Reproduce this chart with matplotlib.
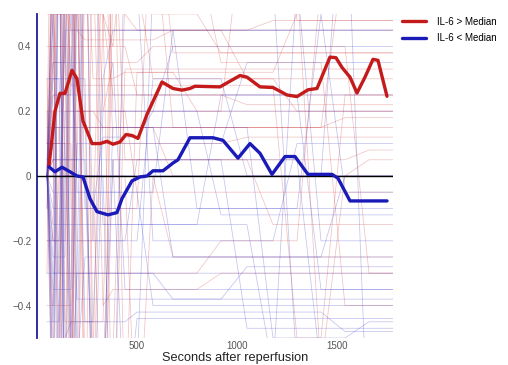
import numpy as np
import matplotlib
matplotlib.use("Agg")
import matplotlib.pyplot as plt

plt.rcParams['font.family'] = ['Liberation Sans', 'DejaVu Sans']

# Shared sampling times (s) for the individual patient traces
trace_t = [50, 80, 110, 140, 170, 200, 240, 280, 330, 380, 440, 500, 580,
           680, 800, 920, 1050, 1180, 1300, 1420, 1540, 1660, 1780]

# Individual traces, IL-6 > median group
red_01 = [0.03, 0.9, -0.7, 0.6, 0.45, 0.45, 0.42, 0.42, 0.42, 0.42, 0.42, 0.42, 0.42, 0.45, 0.45, 0.45, 0.45, 0.48, 0.48, 0.48, 0.48, 0.48, 0.48]
red_02 = [0.0, -0.8, 1.1, -0.9, 0.8, 0.2, 0.2, 0.2, 0.15, 0.15, 0.15, 0.15, 0.15, 0.15, 0.15, 0.15, 0.15, 0.15, 0.15, 0.15, 0.18, 0.18, 0.18]
red_03 = [0.1, 1.4, 1.2, 1.0, -0.6, 0.9, 0.6, 0.7, -0.4, -0.35, -0.35, -0.35, -0.35, -0.35, -0.35, -0.3, -0.3, -0.3, -0.3, -0.3, -0.3, -0.3, -0.3]
red_04 = [-0.1, 0.5, 1.3, 1.3, 1.2, -0.9, 0.9, 0.3, 0.3, 0.3, 0.32, 0.32, 0.32, 0.32, 0.32, 0.32, 0.32, 0.32, 0.5, 0.52, 0.52, 0.52, 0.52]
red_05 = [0.05, 0.35, 0.35, 0.35, 1.0, 1.2, -1.0, 0.9, 0.8, 0.6, 0.5, 0.45, 0.45, 0.45, 0.45, 0.45, 0.3, 0.3, 0.3, 0.3, 0.3, 0.3, 0.3]
red_06 = [0.0, -0.5, -0.6, 0.7, 0.8, 0.7, -0.6, -0.6, 0.9, 0.1, 0.1, 0.1, 0.1, 0.1, 0.1, 0.1, 0.12, 0.12, 0.12, 0.12, 0.12, 0.12, 0.12]
red_07 = [0.02, 0.6, -0.3, -0.3, -0.3, -0.3, -0.3, -0.3, -0.3, -0.3, -0.3, -0.3, -0.3, -0.3, -0.3, -0.2, -0.2, -0.2, -0.2, 0.6, 0.6, 0.6, 0.6]
red_08 = [0.0, 0.25, 0.25, 0.25, 0.25, 1.2, 1.2, -0.8, 0.5, 0.4, 0.4, 0.25, 0.25, 0.25, 0.25, 0.25, 0.22, 0.22, 0.22, 0.22, 0.22, 0.22, 0.22]
red_09 = [0.0, 0.15, 0.15, -1.2, -1.0, 0.8, 1.0, -0.5, -0.55, -0.55, 0.55, 0.55, 0.5, 0.5, 0.5, 0.38, 0.38, 0.38, 0.38, 0.38, 0.38, 0.38, 0.38]
red_10 = [0.0, 0.4, 0.4, 0.4, 0.4, 0.4, 0.4, 0.4, 0.4, 0.4, 0.8, 0.7, 0.62, 0.6, 0.6, 0.6, 0.6, 0.6, 0.6, -0.6, 0.0, 0.05, 0.05]
red_11 = [0.0, -0.2, -0.2, -0.2, 0.9, 0.9, 0.9, 0.9, 0.2, 0.2, 0.2, -0.05, -0.05, -0.05, -0.05, -0.05, -0.05, -0.05, -0.05, -0.05, -0.05, -0.05, -0.05]
red_12 = [0.0, 0.3, 0.8, 0.7, 0.28, 0.28, 0.28, 0.28, 0.28, 0.28, 0.28, 0.28, 0.28, 0.28, 0.28, 0.28, 0.28, 0.28, -0.5, -0.5, 0.25, 0.25, 0.25]
red_13 = [0.0, 0.5, 0.5, 0.5, -0.9, 0.2, 0.2, 0.2, 0.2, 0.35, 0.35, 0.35, 0.4, 0.4, 0.4, 0.4, 0.4, 0.4, 0.4, 0.4, 0.4, -0.3, -0.3]
red_14 = [0.0, 0.05, 0.05, 0.05, 0.05, 0.05, 1.0, 0.8, 0.8, 0.8, 0.7, 0.6, 0.6, 0.6, 0.6, 0.6, 0.6, 0.6, 0.6, 0.6, 0.6, 0.6, 0.6]
red_15 = [0.0, -0.4, -0.4, -0.4, -0.4, 1.1, 0.15, 0.15, 0.15, 0.15, 0.15, 0.15, 0.15, 0.0, 0.0, 0.0, 0.0, 0.0, 0.0, 0.0, 0.0, 0.0, 0.0]
red_16 = [0.0, 0.2, 0.2, 0.2, 0.2, 0.2, 0.2, -0.9, -0.9, 0.6, 0.6, 0.6, 0.3, 0.3, 0.3, 0.3, 0.3, 0.3, 0.2, 0.2, 0.2, 0.2, 0.2]
red_17 = [0.0, 0.1, 0.1, 0.1, 0.1, -1.0, 0.7, 0.7, 0.7, 0.7, 0.7, 0.7, 0.7, 0.7, 0.7, 0.35, 0.35, 0.35, 0.35, 0.35, -0.4, -0.4, -0.4]
red_18 = [0.0, 0.0, 0.9, 0.9, 0.9, 0.9, 0.9, 0.9, 0.5, 0.25, 0.25, 0.25, 0.25, 0.25, 0.25, 0.25, 0.25, 0.25, 0.25, 0.25, 0.25, 0.25, 0.25]
red_19 = [0.2, 0.2, -0.7, -0.7, 1.0, 0.45, 0.45, 0.45, 0.45, 0.45, 0.45, 0.45, 0.45, 0.45, 0.45, 0.45, 0.45, 0.45, 0.45, 0.45, 0.45, 0.45, 0.45]
red_20 = [-0.3, 1.0, 1.0, 0.0, 0.0, 0.0, 0.0, 0.0, -1.0, 0.9, 0.05, 0.05, 0.05, 0.05, 0.05, 0.05, 0.05, -0.15, -0.15, -0.15, -0.15, -0.15, -0.15]
red_21 = [0.3, -0.9, -0.9, 0.95, 0.95, -0.2, -0.2, -0.2, 1.0, 1.0, -0.8, 0.32, 0.32, 0.32, 0.2, 0.2, 0.2, 0.2, 0.2, 0.2, 0.2, 0.2, 0.2]
red_22 = [0.1, 0.1, 0.1, 1.1, -0.1, -0.1, -0.1, -0.1, -0.1, -0.1, -0.1, -0.1, 0.95, 0.38, 0.38, 0.38, 0.38, 0.38, 0.38, 0.38, 0.38, 0.38, 0.38]
red_23 = [-0.2, -0.2, 1.2, -0.45, -0.45, -0.45, -0.45, -0.45, -0.45, 0.8, 0.8, 0.8, 0.8, 0.15, 0.15, 0.15, 0.15, 0.15, 0.15, 0.15, 0.15, 0.15, 0.15]
red_24 = [0.4, 0.4, 0.4, 0.4, -1.1, 1.1, 1.1, 1.1, 1.1, 0.2, 0.2, 0.2, 0.2, 0.2, 0.2, 0.2, 0.9, 0.9, 0.48, 0.48, 0.48, 0.48, 0.48]
red_25 = [0.0, 0.7, 0.7, 0.7, 0.7, 0.7, -0.9, -0.9, -0.9, 0.05, 0.05, 0.05, 0.05, 0.05, 0.05, 0.05, 0.05, 0.05, 0.05, 0.05, 0.05, 0.08, 0.08]
red_26 = [-0.4, -0.4, 0.0, 0.0, 0.0, 0.0, 0.0, 0.0, 0.0, 0.0, 0.0, -0.9, 0.0, -0.25, -0.25, -0.25, -0.25, -0.25, -0.25, -0.25, -0.25, -0.25, -0.25]
red_27 = [0.15, 0.15, 0.15, 0.15, 0.15, 0.15, 0.15, 0.15, 0.15, 0.15, 0.15, 0.15, 0.15, 0.15, 0.15, 0.15, 0.15, 0.15, 0.15, 0.15, 0.7, 0.7, 0.7]
red_28 = [0.5, 0.5, 0.5, 0.5, 0.5, 0.5, 0.5, 0.5, 0.5, -0.9, 0.33, 0.33, 0.33, 0.33, 0.33, 0.33, 0.33, 0.33, 0.33, 0.33, 0.33, 0.33, 0.33]

# Individual traces, IL-6 < median group
blue_01 = [0.03, -0.9, 0.8, -0.5, -0.45, -0.45, -0.45, -0.45, -0.45, -0.45, -0.45, -0.42, -0.42, -0.42, -0.42, -0.42, -0.42, -0.42, -0.42, -0.42, -0.48, -0.48, -0.48]
blue_02 = [0.0, 0.7, -1.0, 0.2, 0.2, 0.2, 0.2, 0.2, 0.2, 0.2, 0.2, 0.2, 0.2, 0.4, 0.4, 0.4, 0.4, 0.4, 0.4, 0.4, 0.4, 0.4, 0.4]
blue_03 = [0.0, -0.3, -0.3, 0.9, -0.7, -0.3, -0.3, -0.3, -0.3, -0.3, -0.3, -0.3, -0.3, -0.38, -0.38, -0.38, -0.38, -0.38, -0.38, -0.38, -0.38, -0.38, -0.38]
blue_04 = [0.0, 0.1, 0.1, 0.1, -0.6, -0.6, 0.9, -0.2, -0.2, -0.2, -0.2, 0.05, 0.05, 0.05, 0.05, 0.05, 0.05, 0.05, 0.05, -0.6, -0.6, -0.6, -0.6]
blue_05 = [0.0, -0.1, -0.1, -0.1, -0.1, -0.1, -0.1, -0.1, 0.12, 0.12, 0.12, 0.12, 0.2, 0.2, 0.2, 0.2, 0.2, 0.2, 0.2, 0.2, 0.2, 0.2, 0.2]
blue_06 = [0.0, 0.3, 0.3, -0.8, -0.8, 0.6, -0.45, -0.45, 0.3, 0.45, 0.45, 0.45, 0.45, 0.45, -0.1, -0.1, -0.1, -0.1, -0.1, -0.1, -0.1, -0.1, -0.1]
blue_07 = [0.0, -0.15, -0.15, -0.15, -0.15, -0.15, -0.15, -0.15, -0.15, -0.15, -0.15, -0.15, -0.15, -0.15, -0.15, -0.15, -0.15, -0.6, 0.6, -0.2, -0.2, -0.2, -0.2]
blue_08 = [0.0, 0.05, 0.05, 0.05, 0.05, 0.05, 0.05, -0.6, -0.6, 0.15, 0.15, 0.15, 0.15, -0.25, -0.25, -0.25, -0.25, -0.25, -0.25, -0.25, -0.25, -0.25, -0.25]
blue_09 = [0.0, 0.5, -0.5, 0.5, -0.5, 0.1, 0.1, 0.1, 0.1, 0.1, 0.1, 0.1, 0.1, 0.1, 0.1, 0.1, 0.35, 0.35, 0.35, 0.35, 0.35, 0.35, 0.35]
blue_10 = [0.0, -0.05, -0.05, -0.05, -0.05, -0.05, -0.05, -0.05, -0.05, -0.05, -0.05, -0.05, -0.4, -0.4, -0.4, -0.4, -0.4, -0.4, -0.4, -0.4, -0.4, -0.4, -0.4]
blue_11 = [0.0, 0.0, 0.0, 0.0, 0.0, 0.0, 0.0, 0.0, 0.0, -1.0, 0.8, 0.6, -0.2, -0.2, -0.2, -0.2, -0.2, -0.2, 0.1, 0.1, 0.1, 0.1, 0.1]
blue_12 = [0.0, 0.25, 0.25, 0.25, 0.25, 0.25, 0.25, 0.25, 0.25, 0.25, 0.25, 0.25, 0.25, 0.25, 0.25, 0.25, 0.25, 0.25, 0.25, -0.35, -0.35, -0.35, -0.35]
blue_13 = [0.0, -0.2, -0.2, -0.2, -0.2, -0.2, -0.2, -0.2, -0.2, -0.2, -0.2, -0.2, 0.3, 0.3, 0.3, 0.3, 0.0, 0.0, 0.0, 0.0, 0.0, 0.0, 0.0]
blue_14 = [0.0, -0.35, -0.35, -0.35, -0.35, 1.0, -0.1, -0.1, -0.1, -0.1, -0.1, -0.1, -0.1, -0.1, -0.1, -0.1, -0.1, -0.1, -0.1, 0.5, -0.05, -0.05, -0.05]
blue_15 = [0.0, 0.15, 0.15, 0.15, 0.15, 0.15, 0.15, 0.15, 0.15, 0.15, 0.15, 0.15, 0.15, 0.15, 0.15, 0.15, 0.15, -0.5, -0.5, -0.5, -0.5, -0.45, -0.45]
blue_16 = [0.0, -0.25, -0.25, -0.25, 0.6, -0.6, -0.25, -0.25, -0.25, -0.25, -0.25, -0.25, -0.25, -0.25, -0.25, -0.25, -0.25, -0.25, -0.25, -0.25, 0.0, 0.0, 0.0]
blue_17 = [0.0, 0.35, 0.35, 0.35, 0.35, 0.35, 0.35, 0.35, 0.35, 0.35, -0.35, -0.35, -0.35, -0.35, -0.35, -0.35, -0.35, -0.35, -0.35, -0.35, -0.35, -0.35, -0.35]
blue_18 = [0.0, -0.45, 0.9, -0.9, 0.4, 0.0, 0.0, 0.0, 0.0, 0.0, 0.0, 0.0, 0.0, 0.0, 0.0, 0.0, 0.0, 0.0, 0.0, 0.0, 0.0, 0.0, 0.0]
blue_19 = [-0.1, 0.8, 0.8, -0.9, -0.9, -0.3, -0.3, -0.3, -0.3, -0.3, -0.3, -0.3, -0.3, -0.3, -0.3, -0.3, -0.3, -0.3, -0.3, -0.3, -0.3, -0.3, -0.3]
blue_20 = [0.2, -0.7, 0.9, 0.9, 0.9, -0.05, -0.05, -0.05, -0.05, -0.05, -0.05, -0.05, -0.05, 0.45, 0.45, 0.45, 0.45, 0.45, 0.45, 0.45, 0.45, 0.45, 0.45]
blue_21 = [-0.3, -0.3, -0.3, -0.3, -0.3, -0.3, 1.0, 1.0, -0.15, -0.15, -0.15, -0.15, -0.15, -0.15, -0.15, 0.25, 0.25, 0.25, 0.25, 0.25, 0.25, 0.25, 0.25]
blue_22 = [0.1, 0.1, -1.0, 0.0, 0.0, 0.0, 0.0, -0.7, -0.7, 0.05, 0.05, 0.05, 0.05, 0.05, 0.05, 0.05, -0.47, -0.47, -0.47, -0.47, -0.47, -0.47, -0.47]
blue_23 = [0.0, 0.0, 0.0, 0.0, 0.0, 0.0, 0.0, 0.0, 0.0, 0.0, 0.0, 0.0, 0.0, 0.0, 0.0, 0.0, 0.0, 0.0, 0.0, 0.0, 1.0, -0.9, -0.9]
blue_24 = [-0.45, -0.45, -0.45, 0.7, 0.7, -0.38, -0.38, -0.38, -0.38, -0.38, -0.38, -0.38, -0.38, -0.38, -0.38, -0.38, -0.28, -0.28, -0.28, -0.28, -0.28, -0.28, -0.28]
blue_25 = [0.3, 0.3, 0.3, 0.3, 0.3, 0.3, 0.3, -0.9, 0.2, 0.2, 0.2, 0.2, 0.2, 0.2, 0.2, -0.12, -0.12, -0.12, -0.12, -0.12, -0.12, -0.12, -0.12]
blue_26 = [0.05, 0.05, 0.05, 0.05, 0.05, 0.05, 0.05, 0.05, 0.05, 0.05, -0.8, -0.44, -0.44, -0.44, -0.44, -0.44, -0.44, -0.44, -0.44, -0.44, -0.44, -0.44, -0.44]
blue_27 = [-0.2, -0.2, -0.2, 0.45, 0.45, 0.45, 0.45, 0.45, 0.45, 0.45, 0.45, 0.45, 0.45, 0.45, 0.45, 0.45, 0.45, 0.45, 0.45, 0.45, 0.45, 0.45, 0.45]
blue_28 = [0.0, -0.6, -0.6, -0.6, -0.6, -0.6, -0.6, -0.6, -0.6, -0.6, -0.6, -0.6, 0.6, 0.6, 0.6, 0.6, 0.6, 0.6, -0.6, -0.6, -0.6, -0.6, -0.6]

# Group means
high_t = [60, 90, 115, 140, 175, 200, 230, 275, 315, 350, 380, 415, 445, 475, 505,
          550, 625, 680, 725, 765, 790, 915, 1015, 1050, 1115, 1180, 1250, 1300,
          1355, 1400, 1465, 1495, 1525, 1565, 1600, 1640, 1680, 1705, 1750]
high_v = [0.031, 0.20, 0.255, 0.255, 0.326, 0.30, 0.17, 0.10, 0.10, 0.107, 0.098,
          0.105, 0.128, 0.125, 0.116, 0.19, 0.29, 0.27, 0.265, 0.27, 0.277, 0.275,
          0.31, 0.305, 0.275, 0.273, 0.25, 0.245, 0.266, 0.27, 0.367, 0.365, 0.335,
          0.305, 0.256, 0.305, 0.36, 0.357, 0.246]
low_t = [60, 90, 125, 165, 200, 230, 265, 300, 355, 400, 425, 475, 515, 550, 580,
         630, 680, 705, 765, 880, 930, 1005, 1065, 1115, 1175, 1240, 1290, 1355,
         1475, 1505, 1565, 1750]
low_v = [0.028, 0.013, 0.027, 0.013, 0.0, -0.003, -0.07, -0.11, -0.12, -0.113, -0.07,
         -0.015, -0.003, 0.0, 0.016, 0.016, 0.04, 0.05, 0.118, 0.118, 0.11, 0.055,
         0.1, 0.07, 0.005, 0.06, 0.06, 0.005, 0.005, -0.007, -0.077, -0.077]

red_traces = [red_01, red_02, red_03, red_04, red_05, red_06, red_07, red_08, red_09,
              red_10, red_11, red_12, red_13, red_14, red_15, red_16, red_17, red_18,
              red_19, red_20, red_21, red_22, red_23, red_24, red_25, red_26, red_27,
              red_28]
blue_traces = [blue_01, blue_02, blue_03, blue_04, blue_05, blue_06, blue_07, blue_08,
               blue_09, blue_10, blue_11, blue_12, blue_13, blue_14, blue_15, blue_16,
               blue_17, blue_18, blue_19, blue_20, blue_21, blue_22, blue_23, blue_24,
               blue_25, blue_26, blue_27, blue_28]

fig = plt.figure(figsize=(5.08, 3.65), dpi=100)
ax = fig.add_axes([0.0728, 0.074, 0.7008, 0.8877])

for tr in red_traces:
    ax.plot(trace_t, tr, color='#d23c3c', lw=0.55, alpha=0.3)
for tr in blue_traces:
    ax.plot(trace_t, tr, color='#3c3cc8', lw=0.55, alpha=0.3)

ax.axhline(0, color='black', lw=1.0, zorder=3)

ax.plot(high_t, high_v, color='#c41a1a', lw=2.4, solid_joinstyle='round',
        solid_capstyle='round', zorder=4, label='IL-6 > Median')
ax.plot(low_t, low_v, color='#1a1ab8', lw=2.4, solid_joinstyle='round',
        solid_capstyle='round', zorder=4, label='IL-6 < Median')

ax.set_xlim(0, 1780)
ax.set_ylim(-0.5, 0.5)
ax.set_xticks([500, 1000, 1500])
ax.set_yticks([-0.4, -0.2, 0, 0.2, 0.4])
ax.set_yticklabels(['\u22120.4', '\u22120.2', '0', '0.2', '0.4'])
ax.tick_params(length=0, labelsize=7, colors='#555555')
ax.tick_params(axis='x', pad=2)
ax.tick_params(axis='y', pad=4)

for s in ['top', 'right', 'bottom']:
    ax.spines[s].set_visible(False)
ax.spines['left'].set_color('#1c1c9a')
ax.spines['left'].set_linewidth(1.3)

ax.set_xlabel('Seconds after reperfusion', fontsize=9.2, color='#222222')
ax.xaxis.set_label_coords(0.556, -0.044)

ax.legend(loc='upper left', bbox_to_anchor=(1.01, 1.01), frameon=False,
          fontsize=7, handlelength=2.4, handletextpad=1.2, labelspacing=0.7,
          borderaxespad=0.2)

fig.savefig('out.png', dpi=100)
